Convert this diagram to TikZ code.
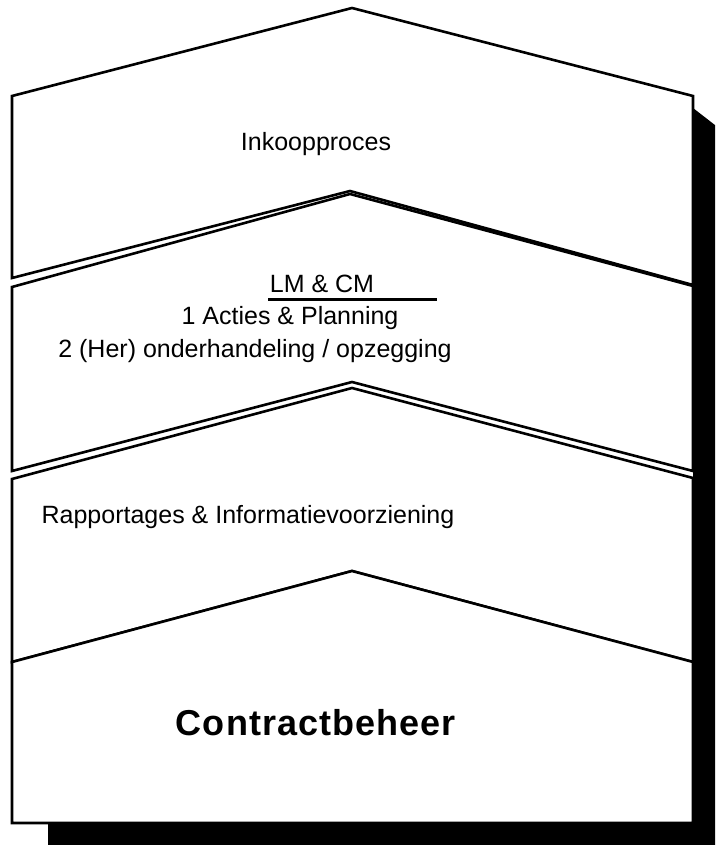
\documentclass[tikz,border=0pt]{standalone}
\usepackage{fontspec}
\setmainfont{Liberation Sans}
\begin{document}
\begin{tikzpicture}[x=1pt,y=-1pt,
  layer/.style={draw=black, fill=white, line width=2.6pt, line join=miter},
  shadowfill/.style={fill=black},
  lbl/.style={inner sep=0pt, anchor=base, font=\fontsize{25}{30}\selectfont},
  biglbl/.style={inner sep=0pt, anchor=base, font=\fontsize{36}{42}\selectfont\bfseries\addfontfeatures{LetterSpace=3}}]
\useasboundingbox (0,0) rectangle (715,845);
\begin{scope}
\clip (0,0) rectangle (715,845);
% shadow
\fill[shadowfill] (693,108) -- (760,160) -- (760,860) -- (48,860) -- (48,823) -- (693,823) -- cycle;
\end{scope}
% layers
\draw[layer] (12,96) -- (352,8) -- (693,96) -- (693,285) -- (350,191) -- (12,278) -- cycle;
\draw[layer] (12,287) -- (350,194) -- (693,286) -- (693,471) -- (352,382) -- (12,471) -- cycle;
\draw[layer] (12,479) -- (352,388) -- (693,478) -- (693,662) -- (352,571) -- (12,662) -- cycle;
\draw[layer] (12,662) -- (352,571) -- (693,662) -- (693,823) -- (12,823) -- cycle;
% texts
\node[lbl] (ink) at (316,151) {Inkoopproces};
\node[lbl] (lmcm) at (322,292) {LM \& CM};
\draw[line width=3pt] (268,299) -- (437,299);
\node[lbl] (acties) at (290,324) {1 Acties \& Planning};
\node[lbl] (onder) at (255,357) {2 (Her) onderhandeling / opzegging};
\node[lbl] (rapp) at (248,523) {Rapportages \& Informatievoorziening};
\node[biglbl] (cb) at (316,735) {Contractbeheer};
\end{tikzpicture}
\end{document}
